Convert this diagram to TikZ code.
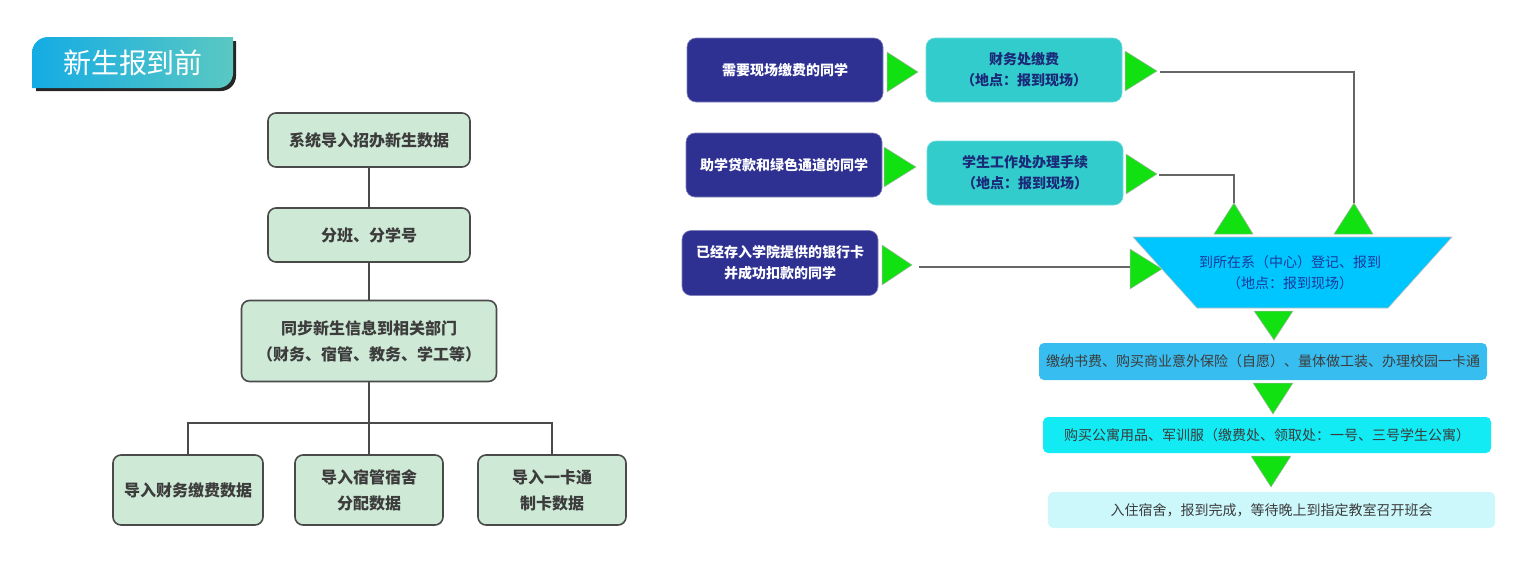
\documentclass[tikz,border=0pt]{standalone}
\usepackage{fontspec}
\setmainfont{Noto Sans CJK SC}
\definecolor{lgreen}{HTML}{CEE9D6}
\definecolor{lgray}{HTML}{4A4A4A}
\definecolor{ltext}{HTML}{3C3C3C}
\definecolor{dnavy}{HTML}{2E3192}
\definecolor{tealc}{HTML}{33CCCC}
\definecolor{tealtxt}{HTML}{1B2A78}
\definecolor{grn}{HTML}{11E011}
\definecolor{trapc}{HTML}{00C6FF}
\definecolor{trapt}{HTML}{1A3A9A}
\definecolor{ea}{HTML}{38BDF0}
\definecolor{eb}{HTML}{12EAF4}
\definecolor{ec}{HTML}{CCF8FC}
\definecolor{tleft}{HTML}{14ACE4}
\definecolor{tright}{HTML}{5AC8C2}
\begin{document}
\begin{tikzpicture}[x=1pt,y=-1pt,
  lbox/.style={draw=lgray, line width=1.6pt, fill=lgreen, rounded corners=8pt, inner sep=0pt, align=center, text=ltext, font=\bfseries\fontsize{16}{26}\selectfont},
  lline/.style={draw=lgray, line width=1.6pt},
  dbox/.style={draw=dnavy!60!white, line width=0.6pt, fill=dnavy, rounded corners=9pt, inner sep=0pt, align=center, text=white, minimum width=196pt, minimum height=64pt, font=\bfseries\fontsize{14}{21}\selectfont},
  cbox/.style={draw=tealc!70!white, line width=0.6pt, fill=tealc, rounded corners=9pt, inner sep=0pt, align=center, text=tealtxt, minimum width=196pt, minimum height=64pt, font=\bfseries\fontsize{14}{21}\selectfont},
  ebox/.style={rounded corners=5pt, inner sep=0pt, align=center, text=ltext, font=\fontsize{14}{20}\selectfont},
  gtri/.style={fill=grn, draw=gray!60, line width=0.5pt},
  rline/.style={draw=gray!80!black, line width=1.2pt}]
\useasboundingbox (0,0) rectangle (1535,568);
% ---------- title tab ----------
\fill[black!85] (36,91) -- (36,56) arc[start angle=180, end angle=270, radius=15] -- (236,41) -- (236,76) arc[start angle=0, end angle=90, radius=15] -- cycle;
\shade[left color=tleft, right color=tright] (32,88) -- (32,53) arc[start angle=180, end angle=270, radius=16] -- (233,37) -- (233,73) arc[start angle=0, end angle=90, radius=15] -- cycle;
\node[text=white, font=\fontsize{28}{30}\selectfont, inner sep=0pt] (title) at (133,63) {新生报到前};
% ---------- left tree ----------
\node[lbox, minimum width=202pt, minimum height=54pt] (t1) at (369,140) {系统导入招办新生数据};
\node[lbox, minimum width=202pt, minimum height=54pt] (t2) at (369,235) {分班、分学号};
\node[lbox, minimum width=255pt, minimum height=81pt] (t3) at (369,341) {同步新生信息到相关部门\\（财务、宿管、教务、学工等）};
\node[lbox, minimum width=150pt, minimum height=70pt] (b1) at (188,490) {导入财务缴费数据};
\node[lbox, minimum width=148pt, minimum height=70pt] (b2) at (369,490) {导入宿管宿舍\\分配数据};
\node[lbox, minimum width=148pt, minimum height=70pt] (b3) at (552,490) {导入一卡通\\制卡数据};
\coordinate (j) at (369,423);
\draw[lline] (t1) -- (t2);
\draw[lline] (t2) -- (t3);
\draw[lline] (t3) -- (j);
\draw[lline] (j) -- (b2);
\draw[lline] (b1.north) -- (b1.north |- j) -- (b3.north |- j) -- (b3.north);
% ---------- right flow ----------
\node[dbox] (d1) at (785,70) {需要现场缴费的同学};
\node[cbox] (c1) at (1024,70) {财务处缴费\\（地点：报到现场）};
\node[dbox] (d2) at (784,165) {助学贷款和绿色通道的同学};
\node[cbox] (c2) at (1025,173) {学生工作处办理手续\\（地点：报到现场）};
\node[dbox, minimum height=65pt] (d3) at (780,263) {已经存入学院提供的银行卡\\并成功扣款的同学};
% green triangles
\path[gtri] (887,52) -- (918,72) -- (887,92) -- cycle;
\path[gtri] (1125,51) -- (1157,71) -- (1125,91) -- cycle;
\path[gtri] (884,147) -- (916,167) -- (884,187) -- cycle;
\path[gtri] (1126,154) -- (1157,174) -- (1126,194) -- cycle;
\path[gtri] (882,245) -- (912,265) -- (882,285) -- cycle;
\path[gtri] (1130,249) -- (1162,269) -- (1130,289) -- cycle;
\path[gtri] (1214,234) -- (1234,203) -- (1253,234) -- cycle;
\path[gtri] (1334,234) -- (1354,203) -- (1373,234) -- cycle;
\coordinate (g2) at (1160,72);
\coordinate (u2) at (1354,203);
\coordinate (g4) at (1159,175);
\coordinate (u1) at (1234,203);
\coordinate (g5) at (919,267);
\coordinate (g6) at (1130,267);
\draw[rline] (g2) -| (u2);
\draw[rline] (g4) -| (u1);
\draw[rline] (g5) -- (g6);
% trapezoid
\fill[trapc, draw=gray!50, line width=0.6pt] (1133,237) -- (1452,237) -- (1388,308) -- (1197,308) -- cycle;
\node[inner sep=0pt, align=center, text=trapt, font=\fontsize{14}{21}\selectfont] (reg) at (1290,273) {到所在系（中心）登记、报到\\（地点：报到现场）};
% bottom boxes
\path[gtri] (1254,311) -- (1293,311) -- (1274,340) -- cycle;
\node[ebox, fill=ea, minimum width=448pt, minimum height=37pt] (e1) at (1263,361.5) {缴纳书费、购买商业意外保险（自愿）、量体做工装、办理校园一卡通};
\path[gtri] (1253,383) -- (1293,383) -- (1273,414) -- cycle;
\node[ebox, fill=eb, minimum width=448pt, minimum height=36pt] (e2) at (1267,435) {购买公寓用品、军训服（缴费处、领取处：一号、三号学生公寓）};
\path[gtri] (1251,456) -- (1291,456) -- (1271,487) -- cycle;
\node[ebox, fill=ec, minimum width=447pt, minimum height=36pt] (e3) at (1271.5,510) {入住宿舍，报到完成，等待晚上到指定教室召开班会};
\end{tikzpicture}
\end{document}
